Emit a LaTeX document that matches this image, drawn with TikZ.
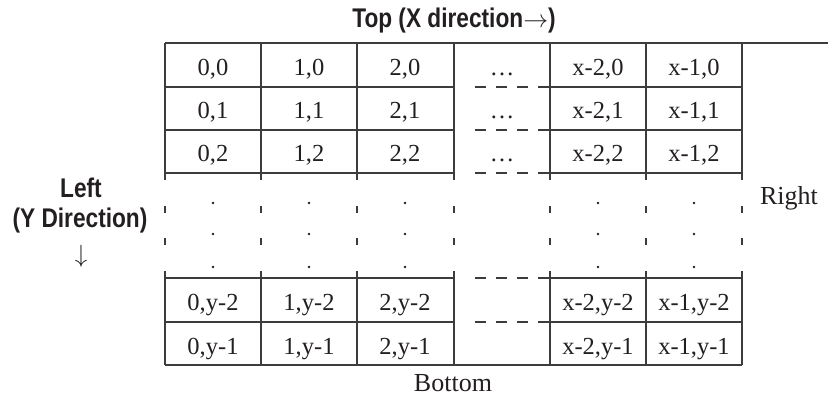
\documentclass[tikz,border=0pt]{standalone}
\usepackage{fontspec}
\setmainfont{Liberation Serif}
\newfontfamily\labfont[FakeStretch=0.84]{Liberation Sans}
\definecolor{gridcol}{HTML}{3C3C3C}
\definecolor{txt}{HTML}{231F20}
\begin{document}
\begin{tikzpicture}[x=1pt,y=-1pt,
  gridline/.style={draw=gridcol,line width=1.2pt},
  dashh/.style={gridline,dash pattern=on 11pt off 10pt},
  dashv/.style={gridline,dash pattern=on 7pt off 25.67pt},
  cell/.style={anchor=base,font=\fontsize{24.5}{27}\selectfont,text=txt,inner sep=0pt},
  side/.style={anchor=base,font=\fontsize{26}{28}\selectfont,text=txt,inner sep=0pt},
  lab/.style={anchor=base,font=\labfont\bfseries\fontsize{27}{30}\selectfont,text=txt,inner sep=0pt},
  dotmark/.style={fill=txt,draw=none}]
\useasboundingbox (0,0) rectangle (828,398);
% top line
\draw[gridline] (165,43) -- (828,43);
% bottom line
\draw[gridline] (165,365) -- (742,365);
% inner horizontal lines
\foreach \y in {87,130,173,278,322}{
  \draw[gridline] (165,\y) -- (454,\y);
  \draw[gridline] (550,\y) -- (742,\y);
  \draw[dashh] (475,\y) -- (550,\y);
}
% vertical lines
\foreach \x in {165,261,357,454,550,646,742}{
  \draw[gridline] (\x,43) -- (\x,173);
  \draw[dashv] (\x,173) -- (\x,278);
  \draw[gridline] (\x,278) -- (\x,365);
}
% cells, top rows
\node[cell] (c00) at (213,76) {0,0};
\node[cell] (c10) at (309,76) {1,0};
\node[cell] (c20) at (405,76) {2,0};
\node[cell] (c30) at (502,76) {…};
\node[cell] (c40) at (598,76) {x-2,0};
\node[cell] (c50) at (694,76) {x-1,0};
\node[cell] (c01) at (213,119) {0,1};
\node[cell] (c11) at (309,119) {1,1};
\node[cell] (c21) at (405,119) {2,1};
\node[cell] (c31) at (502,119) {…};
\node[cell] (c41) at (598,119) {x-2,1};
\node[cell] (c51) at (694,119) {x-1,1};
\node[cell] (c02) at (213,162) {0,2};
\node[cell] (c12) at (309,162) {1,2};
\node[cell] (c22) at (405,162) {2,2};
\node[cell] (c32) at (502,162) {…};
\node[cell] (c42) at (598,162) {x-2,2};
\node[cell] (c52) at (694,162) {x-1,2};
% bottom rows
\node[cell] (c0a) at (213,311) {0,y-2};
\node[cell] (c1a) at (309,311) {1,y-2};
\node[cell] (c2a) at (405,311) {2,y-2};
\node[cell] (c4a) at (598,311) {x-2,y-2};
\node[cell] (c5a) at (694,311) {x-1,y-2};
\node[cell] (c0b) at (213,354) {0,y-1};
\node[cell] (c1b) at (309,354) {1,y-1};
\node[cell] (c2b) at (405,354) {2,y-1};
\node[cell] (c4b) at (598,354) {x-2,y-1};
\node[cell] (c5b) at (694,354) {x-1,y-1};
% vertical dots
\foreach \x in {213,309,405,598,694}{
  \foreach \y in {203,234,267}{
    \fill[dotmark] (\x,\y) circle (1.3pt);
  }
}
% labels
\node[lab] (top) at (454,28) {Top (X direction$\rightarrow$)};
\node[lab] (left) at (81,198) {Left};
\node[lab] (ydir) at (80,228) {(Y Direction)};
\node[anchor=base,font=\fontsize{28}{30}\selectfont,text=txt,inner sep=0pt] (darr) at (81,263) {$\downarrow$};
\node[side] (right) at (789,205) {Right};
\node[side] (bottom) at (453,391) {Bottom};
\end{tikzpicture}
\end{document}
